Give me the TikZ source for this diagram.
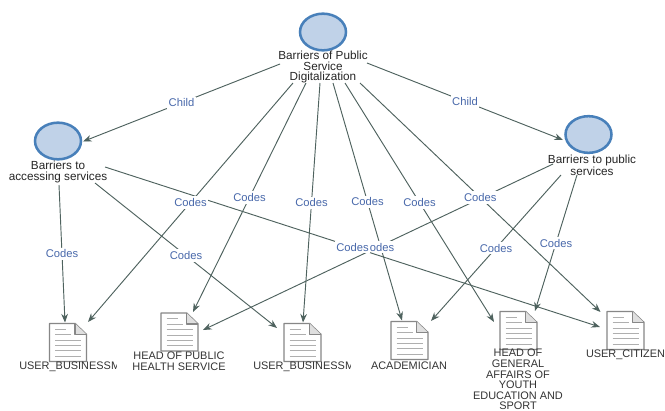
\documentclass[tikz,border=0pt]{standalone}
\usepackage{fontspec}
\setmainfont{Liberation Sans}
\usetikzlibrary{arrows.meta,shapes.geometric}
\definecolor{connc}{RGB}{78,98,94}
\definecolor{codec}{RGB}{72,104,170}
\definecolor{nodefill}{RGB}{192,210,232}
\definecolor{nodeline}{RGB}{72,128,186}
\definecolor{docline}{RGB}{135,135,135}
\definecolor{docrule}{RGB}{175,175,175}
\tikzset{
  x=0.75pt,y=-0.75pt,
  conn/.style={draw=connc,line width=0.7pt,-{Stealth[length=6.5pt,width=5pt]}},
  edgelab/.style={fill=white,text=codec,inner xsep=1pt,inner ysep=1.5pt,font=\fontsize{8.4}{9}\selectfont},
  circ/.style={ellipse,draw=nodeline,fill=nodefill,line width=1.9pt,inner sep=0pt,minimum width=34.5pt,minimum height=27.5pt},
  lab/.style={align=center,inner sep=0pt,text=black!85,font=\fontsize{8.8}{8}\selectfont},
  doclab/.style={align=center,inner sep=0pt,text=black!80,font=\fontsize{8.2}{7.9}\selectfont},
  docbox/.style={inner sep=0pt,minimum width=28pt,minimum height=30pt},
}
\newcommand{\docicon}[3]{%
  \begin{scope}[shift={(#2,#3)}]
    \node[docbox] (#1) at (0,0) {};
    \draw[docline,line width=1.1pt,fill=white,line join=round]
      (-18.5,-19) -- (7,-19) -- (18.5,-8) -- (18.5,19) -- (-18.5,19) -- cycle;
    \draw[docline,line width=0.9pt,fill=docrule!40,line join=round] (7,-19) -- (7,-8) -- (18.5,-8);
    \draw[docrule,line width=0.7pt]
      (-13,-13.5) -- (-2,-13.5)
      (-13,-8) -- (3,-8)
      (-13,-2.5) -- (13,-2.5)
      (-13,3) -- (13,3)
      (-13,8) -- (13,8)
      (-13,13.5) -- (13,13.5);
  \end{scope}}
\newcommand{\conn}[7]{%
  \draw[conn] ([shift={(#2,#3)}]#1.center) -- node[edgelab,pos=0.5] {#7} ([shift={(#5,#6)}]#4.center);}
\begin{document}
\begin{tikzpicture}
\useasboundingbox (0,0) rectangle (665,411);
\fill[white] (0,0) rectangle (665,411);

% concept nodes
\node[circ] (c0) at (323,32) {};
\node[circ] (cl) at (58,141) {};
\node[circ] (cr) at (588.5,134.5) {};
\node[lab] (R) at (323,67) {Barriers of Public\\Service\\Digitalization};
\node[lab] (A) at (58,172) {Barriers to\\accessing services};
\node[lab] (P) at (592,165) {Barriers to public\\services};

% documents
\docicon{D1}{68}{342.5}
\docicon{D2}{179.5}{332}
\docicon{D3}{302.5}{342.5}
\docicon{D4}{409.5}{340.5}
\docicon{D5}{518.5}{330.5}
\docicon{D6}{625.5}{330.5}

% document labels
\begin{scope}
  \clip (0,355) rectangle (116,380);
  \node[doclab,anchor=west] (L1) at (19,367) {USER\_BUSINESSM};
\end{scope}
\begin{scope}
  \clip (240,355) rectangle (350,380);
  \node[doclab,anchor=west] (L3) at (253,367) {USER\_BUSINESSM};
\end{scope}
\node[doclab] (L2) at (179,361) {HEAD OF PUBLIC\\HEALTH SERVICE};
\node[doclab] (L4) at (409,366) {ACADEMICIAN};
\node[doclab] (L5) at (518,379.5) {HEAD OF\\GENERAL\\AFFAIRS OF\\YOUTH\\EDUCATION AND\\SPORT};
\node[doclab] (L6) at (625.5,355) {USER\_CITIZEN};

% connectors
\conn{R}{10}{16}{D4}{-7.5}{-20}{Codes}
\conn{P}{-39}{-1}{D2}{23.5}{-2}{Codes}
\conn{A}{47}{-5}{D6}{-25.5}{-3.5}{Codes}
\conn{P}{-31}{10}{D4}{21.5}{-19.5}{Codes}
\conn{P}{-15}{10}{D5}{16.5}{-19.5}{Codes}
\conn{A}{1}{13}{D1}{-3}{-20}{Codes}
\conn{A}{37}{11}{D3}{-25.5}{-14.5}{Codes}
\conn{R}{-30}{16}{D1}{20}{-20.5}{Codes}
\conn{R}{-17}{16}{D2}{13.5}{-20}{Codes}
\conn{R}{-3}{16}{D3}{0.5}{-20}{Codes}
\conn{R}{22}{16}{D5}{-24.5}{-8.5}{Codes}
\conn{R}{37}{16}{D6}{-25}{-18.5}{Codes}
\conn{R}{-43}{-3}{cl}{25}{0.5}{Child}
\conn{R}{44}{-4}{cr}{-25.5}{5.5}{Child}
\end{tikzpicture}
\end{document}
